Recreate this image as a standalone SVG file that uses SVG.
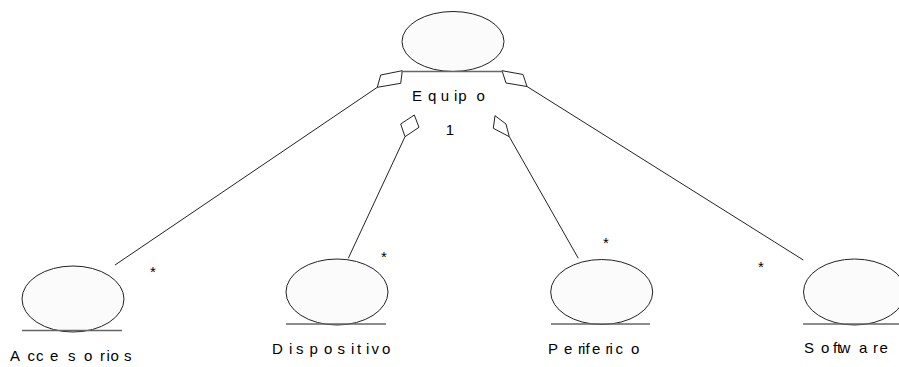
<svg xmlns="http://www.w3.org/2000/svg" width="899" height="367" viewBox="0 0 899 367">
<style>
.cls{fill:#fbfbfb;stroke:#222;stroke-width:1}
.base{stroke:#666;stroke-width:1.5}
.lbl{font-family:"Liberation Sans",Arial,sans-serif;font-size:15px;fill:#000}
.mult{font-family:"Liberation Sans",Arial,sans-serif;font-size:15px;fill:#000}
.edge{fill:none;stroke:#222;stroke-width:1}
.dia{fill:#fff;stroke:#222;stroke-width:1}
</style>
<rect width="899" height="367" fill="#fff"/>
<g id="connectors">
<line class="edge" x1="377.3" y1="87.3" x2="115" y2="265"/>
<polygon class="dia" points="402.3,70.7 400.7,83.3 377.3,87.3 380.7,75"/>
<line class="edge" x1="405" y1="136.7" x2="348.3" y2="258.3"/>
<polygon class="dia" points="400.7,124 414.3,115 419,127.3 405,136.7"/>
<line class="edge" x1="509.3" y1="136.7" x2="578.3" y2="258.3"/>
<polygon class="dia" points="495,115.7 506,124 509.3,136.7 493.3,128.3"/>
<line class="edge" x1="527" y1="86.5" x2="803.3" y2="260"/>
<polygon class="dia" points="502,70.7 523,74.5 527,86.5 506,83"/>
<text class="mult" x="450" y="135" text-anchor="middle">1</text>
<text class="mult" x="153" y="277" text-anchor="middle">*</text>
<text class="mult" x="384" y="262" text-anchor="middle">*</text>
<text class="mult" x="606" y="248" text-anchor="middle">*</text>
<text class="mult" x="761" y="272" text-anchor="middle">*</text>
</g>
<g id="Equipo">
<ellipse class="cls" cx="453" cy="41.5" rx="51" ry="30"/>
<line class="base" x1="402" y1="71.5" x2="503" y2="71.5"/>
<text class="lbl" x="412 428 440.7 454 458.3 476.5" y="100.5">Equipo</text>
</g>
<g id="Accesorios">
<ellipse class="cls" cx="73" cy="299" rx="51" ry="33"/>
<line class="base" x1="22" y1="330.5" x2="122" y2="330.5"/>
<text class="lbl" x="10 27.5 36 50 68 84 100 106.5 110.5 124" y="360.5">Accesorios</text>
</g>
<g id="Dispositivo">
<ellipse class="cls" cx="337" cy="292" rx="51" ry="33"/>
<line class="base" x1="286" y1="324" x2="386" y2="324"/>
<text class="lbl" x="272 289 296 309.5 324 337.5 351 357 366 371.5 382" y="354">Dispositivo</text>
</g>
<g id="Periferico">
<ellipse class="cls" cx="601.7" cy="292" rx="51" ry="32.5"/>
<line class="base" x1="551" y1="324" x2="650" y2="324"/>
<text class="lbl" x="548 564 578 582 585.5 592 605.5 609.5 615.5 631" y="354">Periferico</text>
</g>
<g id="Software">
<ellipse class="cls" cx="854.5" cy="292" rx="51" ry="33"/>
<line class="base" x1="803" y1="324" x2="899" y2="324"/>
<text class="lbl" x="804 821 833 837 839.5 859 873 879.5" y="353">Software</text>
</g>
</svg>
